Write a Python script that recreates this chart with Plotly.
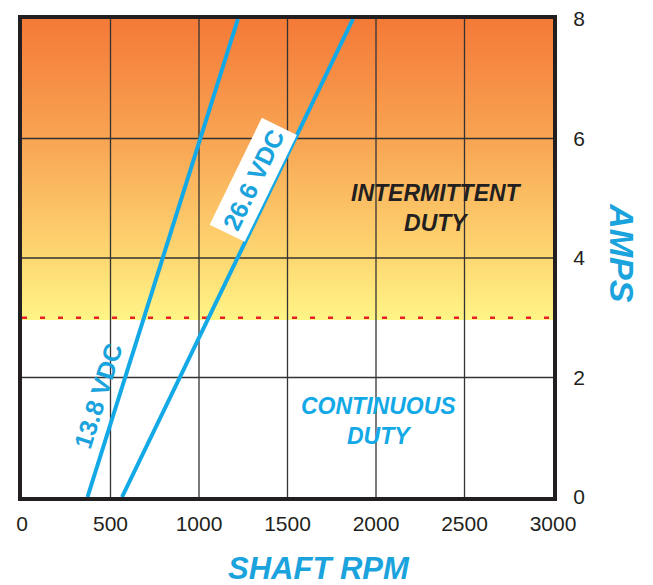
import numpy as np
import plotly.graph_objects as go

# ---- data ----
x_ticks = [0, 500, 1000, 1500, 2000, 2500, 3000]
y_ticks = [0, 2, 4, 6, 8]
rpm_138 = [370, 1220]
amps_138 = [0, 8]
rpm_266 = [565, 1870]
amps_266 = [0, 8]
continuous_limit = 3
label_138 = "13.8 VDC"
label_266 = "26.6 VDC"

BLUE = "#12A9E6"
TITLE_BLUE = "#1AA3DC"
FONT = "Liberation Sans Narrow, Liberation Sans, Arial, sans-serif"
BFONT = "Liberation Sans, Arial, sans-serif"

fig = go.Figure()

# gradient background (intermittent zone)
gy = np.linspace(continuous_limit, 8, 60)
fig.add_trace(go.Heatmap(
    x=[0, 3000], y=gy, z=[[v, v] for v in gy],
    colorscale=[[0.0, "#FFF486"], [0.2, "#FED872"], [0.6, "#F8A453"], [1.0, "#F47A37"]],
    zsmooth="best", showscale=False, hoverinfo="skip"))

# gridlines drawn above the gradient
for xv in x_ticks[1:-1]:
    fig.add_trace(go.Scatter(x=[xv, xv], y=[0, 8], mode="lines",
                             line=dict(color="#333333", width=1.3), hoverinfo="skip", showlegend=False))
for yv in y_ticks[1:-1]:
    fig.add_trace(go.Scatter(x=[0, 3000], y=[yv, yv], mode="lines",
                             line=dict(color="#333333", width=1.3), hoverinfo="skip", showlegend=False))

# continuous duty limit
fig.add_trace(go.Scatter(x=[0, 3000], y=[continuous_limit] * 2, mode="lines",
                         line=dict(color="#E8202A", width=2.5, dash="5px,13px"),
                         hoverinfo="skip", showlegend=False))

# voltage lines
fig.add_trace(go.Scatter(x=rpm_138, y=amps_138, mode="lines",
                         line=dict(color=BLUE, width=4), showlegend=False))
fig.add_trace(go.Scatter(x=rpm_266, y=amps_266, mode="lines",
                         line=dict(color=BLUE, width=4), showlegend=False))

fig.update_xaxes(range=[0, 3000], tickvals=x_ticks, showgrid=False, zeroline=False,
                 showline=True, linecolor="#231F20", linewidth=4, mirror=True,
                 ticks="", tickfont=dict(family=FONT, size=21, color="#231F20"),
                 ticklabelstandoff=5, ticklabeloverflow="allow", automargin=False)
fig.update_yaxes(range=[0, 8], tickvals=y_ticks, side="right", showgrid=False, zeroline=False,
                 showline=True, linecolor="#231F20", linewidth=4, mirror=True,
                 ticks="", tickfont=dict(family=FONT, size=21, color="#231F20"),
                 ticklabelstandoff=12, ticklabeloverflow="allow", automargin=False)

ann_font = dict(family=BFONT, size=23, color="#231F20", weight="bold", style="italic")
fig.add_annotation(x=2342, y=4.84, text="INTERMITTENT<br>DUTY", showarrow=False,
                   font=ann_font)
fig.add_annotation(x=2013, y=1.27, text="CONTINUOUS<br>DUTY", showarrow=False,
                   font=dict(ann_font, color=BLUE))
fig.add_annotation(x=429, y=1.69, text=label_138, showarrow=False, textangle=-72.4,
                   font=dict(family=BFONT, size=25, color=TITLE_BLUE, weight="bold"))
fig.add_annotation(x=1305, y=5.31, text=label_266, showarrow=False, textangle=-64,
                   bgcolor="white", borderpad=5,
                   font=dict(family=BFONT, size=25, color=TITLE_BLUE, weight="bold"))

# axis titles
fig.add_annotation(xref="paper", yref="paper", x=0.56, y=-0.15, yanchor="middle",
                   text="SHAFT RPM", showarrow=False,
                   font=dict(family=BFONT, size=31, color=TITLE_BLUE, weight="bold", style="italic"))
fig.add_annotation(xref="paper", yref="paper", x=1.13, y=0.51, xanchor="center",
                   text="AMPS", showarrow=False, textangle=90,
                   font=dict(family=BFONT, size=34, color=TITLE_BLUE, weight="bold", style="italic"))

fig.update_layout(width=653, height=585, margin=dict(l=14, r=108, t=11, b=96),
                  paper_bgcolor="white", plot_bgcolor="white", showlegend=False)

fig.write_html("out.html")
